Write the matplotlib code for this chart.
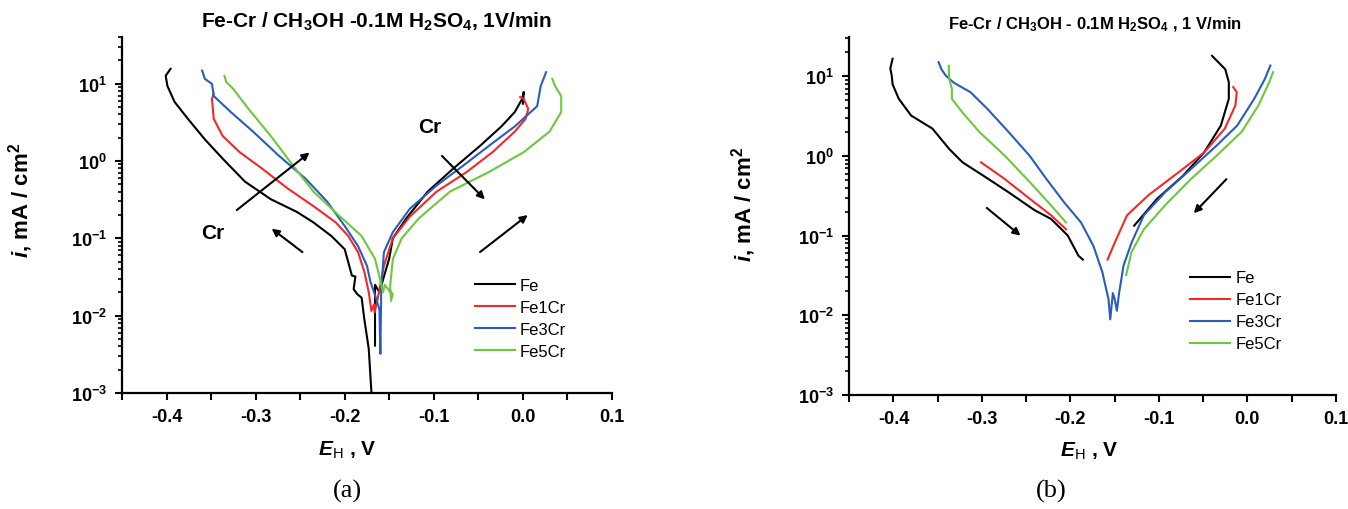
import matplotlib
matplotlib.use("Agg")
import matplotlib.pyplot as plt
from matplotlib.ticker import FuncFormatter, MultipleLocator, LogLocator, NullFormatter
import numpy as np

plt.rcParams['font.family'] = ['Liberation Sans', 'DejaVu Sans']
plt.rcParams['mathtext.fontset'] = 'custom'
plt.rcParams['mathtext.rm'] = 'Liberation Sans'
plt.rcParams['mathtext.it'] = 'Liberation Sans:italic'
plt.rcParams['mathtext.bf'] = 'Liberation Sans:bold'
plt.rcParams['mathtext.bfit'] = 'Liberation Sans:italic:bold'
plt.rcParams['axes.unicode_minus'] = False

# ---- (a) potentiodynamic curves, E (V vs SHE) and i (mA/cm2) ----
a_fe_E = [-0.3955, -0.401, -0.399, -0.391, -0.376, -0.357, -0.337, -0.312, -0.283, -0.254,
          -0.235, -0.215, -0.200, -0.196, -0.192, -0.188, -0.190, -0.186, -0.181, -0.178,
          -0.173, -0.170]
a_fe_i = [15.5, 12.6, 9.3, 5.8, 3.5, 1.9, 1.07, 0.54, 0.32, 0.22,
          0.16, 0.107, 0.072, 0.049, 0.033, 0.032, 0.022, 0.019, 0.017, 0.009,
          0.0037, 0.001]
a_fe_E2 = [-0.166, -0.166, -0.161, -0.156, -0.150, -0.146, -0.131, -0.107, -0.078, -0.048,
           -0.024, -0.009, -0.001, 0.001, 0.0]
a_fe_i2 = [0.0041, 0.025, 0.02, 0.032, 0.055, 0.1, 0.18, 0.4, 0.8, 1.57,
           2.8, 4.3, 6.3, 7.8, 5.5]

a_fe1_E = [-0.347, -0.349, -0.347, -0.337, -0.318, -0.293, -0.264, -0.235, -0.210, -0.196,
           -0.185, -0.178, -0.173, -0.170, -0.167, -0.1665, -0.163, -0.156, -0.146, -0.127,
           -0.097, -0.063, -0.034, -0.009, 0.003, 0.006, 0.001, -0.003]
a_fe1_i = [7.4, 6.3, 3.5, 2.1, 1.3, 0.8, 0.44, 0.26, 0.16, 0.107,
           0.066, 0.037, 0.020, 0.0115, 0.014, 0.011, 0.0165, 0.044, 0.1, 0.19,
           0.4, 0.72, 1.3, 2.4, 3.5, 4.7, 6.3, 6.7]

a_fe3_E = [-0.360, -0.357, -0.349, -0.347, -0.328, -0.303, -0.274, -0.244, -0.220, -0.200,
           -0.185, -0.175, -0.171, -0.167, -0.161, -0.160, -0.159, -0.156, -0.146, -0.127,
           -0.097, -0.067, -0.038, -0.009, 0.016, 0.020, 0.026]
a_fe3_i = [14.7, 11.5, 9.9, 6.9, 4.3, 2.4, 1.17, 0.59, 0.30, 0.144,
           0.079, 0.044, 0.027, 0.020, 0.012, 0.0032, 0.022, 0.066, 0.12, 0.24,
           0.48, 0.87, 1.57, 2.8, 5.1, 9.3, 14.0]

a_fe5_E = [-0.335, -0.333, -0.325, -0.308, -0.283, -0.258, -0.235, -0.205, -0.181, -0.166,
           -0.161, -0.157, -0.155, -0.150, -0.146, -0.148, -0.149, -0.146, -0.136, -0.117,
           -0.082, -0.038, 0.001, 0.030, 0.043, 0.043, 0.036, 0.033]
a_fe5_i = [12.6, 10.5, 8.5, 4.7, 2.1, 0.87, 0.40, 0.19, 0.107, 0.054,
           0.032, 0.020, 0.025, 0.021, 0.019, 0.0155, 0.024, 0.054, 0.1, 0.18,
           0.40, 0.72, 1.3, 2.4, 4.3, 6.9, 9.3, 11.5]

# ---- (b) curves ----
b_fe_E = [-0.401, -0.4036, -0.402, -0.401, -0.394, -0.380, -0.356, -0.337, -0.322, -0.298,
          -0.270, -0.241, -0.222, -0.212, -0.203, -0.191, -0.186]
b_fe_i = [16.5, 12.5, 10.2, 7.9, 5.2, 3.2, 2.2, 1.22, 0.83, 0.56,
          0.35, 0.21, 0.162, 0.126, 0.1, 0.056, 0.05]
b_fe_E2 = [-0.128, -0.102, -0.073, -0.049, -0.030, -0.021, -0.021, -0.025, -0.040]
b_fe_i2 = [0.133, 0.29, 0.56, 1.1, 2.4, 5.2, 8.4, 12.2, 18.0]

b_fe1_E = [-0.301, -0.274, -0.246, -0.222, -0.205]
b_fe1_i = [0.83, 0.51, 0.29, 0.18, 0.12]
b_fe1_E2 = [-0.158, -0.150, -0.136, -0.112, -0.078, -0.049, -0.0255, -0.0135, -0.012, -0.016]
b_fe1_i2 = [0.05, 0.081, 0.18, 0.32, 0.62, 1.1, 2.2, 4.3, 6.3, 7.3]

b_fe3_E = [-0.349, -0.346, -0.341, -0.332, -0.313, -0.294, -0.270, -0.246, -0.227, -0.207,
           -0.188, -0.174, -0.164, -0.157, -0.155, -0.152, -0.150, -0.1475, -0.145, -0.140,
           -0.131, -0.117, -0.093, -0.064, -0.035, -0.0115, 0.0077, 0.0197, 0.026]
b_fe3_i = [15.0, 12.3, 10.2, 8.3, 6.3, 3.9, 2.0, 1.0, 0.51, 0.26,
           0.146, 0.074, 0.035, 0.016, 0.0089, 0.019, 0.016, 0.0114, 0.019, 0.042,
           0.081, 0.18, 0.35, 0.68, 1.34, 2.4, 5.2, 9.2, 13.6]

b_fe5_E = [-0.3375, -0.337, -0.334, -0.334, -0.322, -0.303, -0.274, -0.246, -0.222, -0.205]
b_fe5_i = [13.5, 9.2, 6.9, 5.2, 3.5, 2.0, 1.0, 0.47, 0.24, 0.146]
b_fe5_E2 = [-0.137, -0.131, -0.117, -0.093, -0.064, -0.035, -0.0065, 0.0125, 0.0245, 0.029]
b_fe5_i2 = [0.032, 0.062, 0.12, 0.24, 0.51, 1.0, 2.0, 4.3, 8.3, 11.2]

names = ['Fe', 'Fe1Cr', 'Fe3Cr', 'Fe5Cr']
colors = ['#000000', '#f42828', '#2a5cbc', '#6cc83c']


def log_fmt(v, pos):
    e = int(round(np.log10(v)))
    return r'$\mathbf{10^{%d}}$' % e


def style_axes(ax, ytop, xlab_pos, ylab_pos):
    ax.set_yscale('log')
    ax.set_xlim(-0.45, 0.1)
    ax.set_ylim(1e-3, ytop)
    for s in ['top', 'right']:
        ax.spines[s].set_visible(False)
    for s in ['left', 'bottom']:
        ax.spines[s].set_linewidth(1.6)
    ax.xaxis.set_major_locator(MultipleLocator(0.1))
    ax.xaxis.set_minor_locator(MultipleLocator(0.05))
    ax.xaxis.set_major_formatter(FuncFormatter(lambda v, p: '%.1f' % v if abs(v) > 1e-9 else '0.0'))
    ax.yaxis.set_major_locator(LogLocator(base=10, numticks=10))
    ax.yaxis.set_minor_locator(LogLocator(base=10, subs=np.arange(2, 10), numticks=10))
    ax.yaxis.set_major_formatter(FuncFormatter(log_fmt))
    ax.yaxis.set_minor_formatter(NullFormatter())
    ax.tick_params(axis='both', which='major', direction='out', length=5, width=1.5,
                   labelsize=13, pad=6)
    ax.tick_params(axis='x', which='minor', direction='out', length=5, width=1.5)
    ax.tick_params(axis='y', which='minor', direction='out', length=3, width=1.2)
    for t in ax.get_xticklabels():
        t.set_fontweight('bold')
    ax.set_xlabel(r'$\mathbfit{E}_\mathrm{H}$ , V', fontsize=15, fontweight='bold')
    ax.xaxis.set_label_coords(*xlab_pos)
    ax.set_ylabel(r'$\mathbfit{i}$, mA / cm$^\mathbf{2}$', fontsize=16, fontweight='bold')
    ax.yaxis.set_label_coords(*ylab_pos)


fig = plt.figure(figsize=(13.48, 5.10), dpi=100)
ax1 = fig.add_axes([0.0905, 0.2275, 0.3635, 0.698])
ax2 = fig.add_axes([0.630, 0.2235, 0.361, 0.702])

lw = 1.5
# panel (a)
ax1.plot(a_fe_E, a_fe_i, color=colors[0], lw=lw, label=names[0])
ax1.plot(a_fe_E2, a_fe_i2, color=colors[0], lw=lw)
ax1.plot(a_fe1_E, a_fe1_i, color=colors[1], lw=lw, label=names[1])
ax1.plot(a_fe3_E, a_fe3_i, color=colors[2], lw=lw, label=names[2])
ax1.plot(a_fe5_E, a_fe5_i, color=colors[3], lw=lw, label=names[3])
style_axes(ax1, 40, (0.46, -0.128), (-0.178, 0.545))

arr = dict(arrowstyle='-|>', color='black', lw=1.5, mutation_scale=11)
ax1.annotate('', xy=(-0.237, 1.35), xytext=(-0.3236, 0.22), arrowprops=arr)
ax1.annotate('', xy=(-0.0405, 0.30), xytext=(-0.093, 1.23), arrowprops=arr)
ax1.annotate('', xy=(-0.2845, 0.14), xytext=(-0.245, 0.063), arrowprops=arr)
ax1.annotate('', xy=(0.0079, 0.21), xytext=(-0.0506, 0.063), arrowprops=arr)
ax1.text(-0.348, 0.12, 'Cr', fontsize=15, fontweight='bold', ha='center', va='center')
ax1.text(-0.104, 2.75, 'Cr', fontsize=15, fontweight='bold', ha='center', va='center')

ax1.legend(loc='upper left', bbox_to_anchor=(0.69, 0.365), frameon=False, fontsize=12,
           handlelength=2.4, handletextpad=0.3, labelspacing=0.42)

# panel (b)
ax2.plot(b_fe_E, b_fe_i, color=colors[0], lw=lw, label=names[0])
ax2.plot(b_fe_E2, b_fe_i2, color=colors[0], lw=lw)
ax2.plot(b_fe1_E, b_fe1_i, color=colors[1], lw=lw, label=names[1])
ax2.plot(b_fe1_E2, b_fe1_i2, color=colors[1], lw=lw)
ax2.plot(b_fe3_E, b_fe3_i, color=colors[2], lw=lw, label=names[2])
ax2.plot(b_fe5_E, b_fe5_i, color=colors[3], lw=lw, label=names[3])
ax2.plot(b_fe5_E2, b_fe5_i2, color=colors[3], lw=lw)
style_axes(ax2, 31, (0.493, -0.125), (-0.187, 0.534))

ax2.annotate('', xy=(-0.254, 0.095), xytext=(-0.297, 0.234), arrowprops=arr)
ax2.annotate('', xy=(-0.0628, 0.18), xytext=(-0.0216, 0.54), arrowprops=arr)

ax2.legend(loc='upper left', bbox_to_anchor=(0.67, 0.39), frameon=False, fontsize=12,
           handlelength=2.4, handletextpad=0.3, labelspacing=0.42)

fig.text(0.279, 0.957, r'Fe-Cr / CH$_\mathbf{3}$OH -0.1M H$_\mathbf{2}$SO$_\mathbf{4}$, 1V/min',
         fontsize=15, fontweight='bold', ha='center', va='center')
fig.text(0.812, 0.951, r'Fe-Cr / CH$_\mathbf{3}$OH - 0.1M H$_\mathbf{2}$SO$_\mathbf{4}$ , 1 V/min',
         fontsize=12, fontweight='bold', ha='center', va='center')
fig.text(0.258, 0.037, '(a)', fontsize=19, family='Liberation Serif', ha='center', va='center')
fig.text(0.780, 0.037, '(b)', fontsize=19, family='Liberation Serif', ha='center', va='center')

fig.savefig('out.png', dpi=100)
